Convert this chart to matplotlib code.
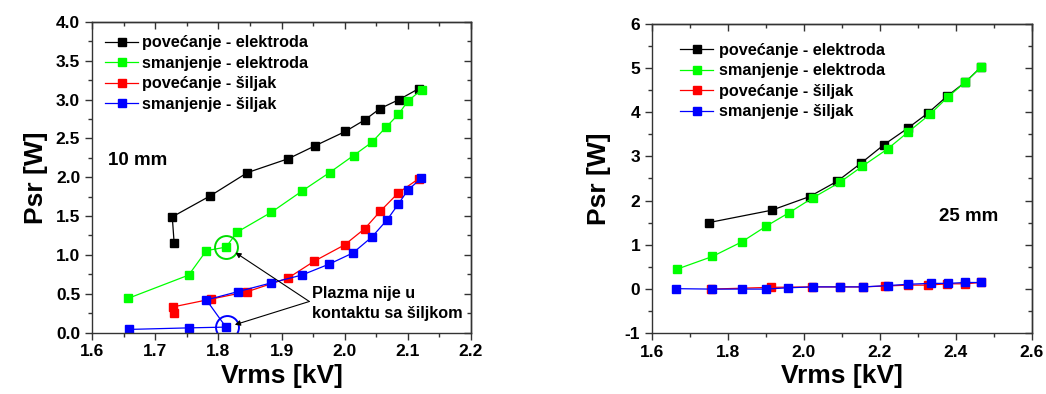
import matplotlib
matplotlib.use('Agg')
import matplotlib.pyplot as plt
from matplotlib.ticker import MultipleLocator, NullFormatter

plt.rcParams['font.family'] = ['Liberation Sans', 'DejaVu Sans']
plt.rcParams['font.weight'] = 'bold'

# labels
lab_pov_el = 'povećanje - elektroda'
lab_sm_el = 'smanjenje - elektroda'
lab_pov_si = 'povećanje - šiljak'
lab_sm_si = 'smanjenje - šiljak'

# 10 mm
v_pov_el_10 = [1.730, 1.727, 1.787, 1.846, 1.911, 1.953, 2.001, 2.032, 2.056, 2.086, 2.117]
p_pov_el_10 = [1.15, 1.49, 1.76, 2.06, 2.24, 2.405, 2.59, 2.74, 2.885, 3.00, 3.14]
v_sm_el_10 = [1.657, 1.753, 1.781, 1.812, 1.830, 1.884, 1.932, 1.976, 2.014, 2.043, 2.066, 2.085, 2.100, 2.122]
p_sm_el_10 = [0.44, 0.74, 1.055, 1.10, 1.295, 1.55, 1.82, 2.06, 2.28, 2.45, 2.65, 2.81, 2.98, 3.13]
v_pov_si_10 = [1.729, 1.728, 1.788, 1.846, 1.910, 1.952, 2.000, 2.032, 2.056, 2.085, 2.117]
p_pov_si_10 = [0.25, 0.33, 0.43, 0.527, 0.70, 0.92, 1.13, 1.34, 1.56, 1.80, 1.98]
v_sm_si_10 = [1.658, 1.753, 1.812, 1.781, 1.831, 1.884, 1.932, 1.975, 2.013, 2.043, 2.067, 2.085, 2.100, 2.121]
p_sm_si_10 = [0.04, 0.06, 0.07, 0.42, 0.527, 0.64, 0.74, 0.88, 1.025, 1.23, 1.45, 1.655, 1.835, 1.985]

# 25 mm
v_pov_el_25 = [1.750, 1.915, 2.015, 2.088, 2.149, 2.211, 2.273, 2.327, 2.377, 2.425, 2.465]
p_pov_el_25 = [1.50, 1.78, 2.09, 2.44, 2.84, 3.27, 3.64, 3.99, 4.37, 4.69, 5.02]
v_sm_el_25 = [1.665, 1.759, 1.836, 1.901, 1.960, 2.023, 2.094, 2.154, 2.220, 2.275, 2.332, 2.379, 2.425, 2.465]
p_sm_el_25 = [0.44, 0.73, 1.06, 1.42, 1.72, 2.06, 2.41, 2.78, 3.17, 3.56, 3.96, 4.35, 4.69, 5.02]
v_pov_si_25 = [1.756, 1.913, 2.022, 2.095, 2.156, 2.213, 2.274, 2.327, 2.377, 2.425, 2.465]
p_pov_si_25 = [-0.01, 0.03, 0.04, 0.04, 0.04, 0.06, 0.08, 0.08, 0.11, 0.11, 0.14]
v_sm_si_25 = [1.663, 1.757, 1.836, 1.899, 1.959, 2.023, 2.095, 2.156, 2.220, 2.275, 2.333, 2.380, 2.425, 2.465]
p_sm_si_25 = [0.00, -0.01, -0.01, -0.01, 0.02, 0.04, 0.04, 0.04, 0.07, 0.10, 0.12, 0.12, 0.14, 0.14]

# circled points (no contact)
circ_green = (1.812, 1.10)
circ_blue = (1.814, 0.07)

fig = plt.figure(figsize=(10.46, 3.94), dpi=100)
ax1 = fig.add_axes([0.0880, 0.1560, 0.3623, 0.7882])
ax2 = fig.add_axes([0.6233, 0.1555, 0.3633, 0.7830])

ms = 6.3
lw = 0.9
tfs = 12.5
colors = ['black', '#00ff00', '#ff0000', '#0000ff']
leg_prop = {'weight': 'bold', 'size': 11.7}

def style_axis(ax, xmaj, xmin, ymaj, ymin):
    for s in ax.spines.values():
        s.set_linewidth(1.0)
        s.set_color('#333333')
    ax.tick_params(which='both', direction='out', width=1.0, color='#333333')
    ax.tick_params(which='major', length=5)
    ax.tick_params(which='minor', length=3)
    # mirrored ticks on top / right, pointing inwards
    top = ax.secondary_xaxis('top')
    top.set_xticks(xmaj)
    top.xaxis.set_minor_locator(MultipleLocator(xmin))
    top.xaxis.set_major_formatter(NullFormatter())
    right = ax.secondary_yaxis('right')
    right.set_yticks(ymaj)
    right.yaxis.set_minor_locator(MultipleLocator(ymin))
    right.yaxis.set_major_formatter(NullFormatter())
    for sec in (top, right):
        sec.tick_params(which='both', direction='in', width=1.0, color='#333333')
        sec.tick_params(which='major', length=5)
        sec.tick_params(which='minor', length=3)
        for s in sec.spines.values():
            s.set_linewidth(1.0)
            s.set_color('#333333')

# ---- left panel (10 mm)
series10 = [(v_pov_el_10, p_pov_el_10, lab_pov_el), (v_sm_el_10, p_sm_el_10, lab_sm_el),
            (v_pov_si_10, p_pov_si_10, lab_pov_si), (v_sm_si_10, p_sm_si_10, lab_sm_si)]
for (x, y, lab), c in zip(series10, colors):
    ax1.plot(x, y, '-s', color=c, lw=lw, ms=ms, mec=c, label=lab)

ax1.plot(*circ_green, 'o', ms=16.5, mfc='none', mec='#00dd00', mew=1.4)
ax1.plot(*circ_blue, 'o', ms=16.5, mfc='none', mec='#0000ff', mew=1.4)

ax1.set_xlim(1.6, 2.2)
ax1.set_ylim(0.0, 4.0)
ax1.xaxis.set_minor_locator(MultipleLocator(0.05))
ax1.yaxis.set_minor_locator(MultipleLocator(0.25))
xt = [1.6, 1.7, 1.8, 1.9, 2.0, 2.1, 2.2]
yt = [0.0, 0.5, 1.0, 1.5, 2.0, 2.5, 3.0, 3.5, 4.0]
ax1.set_xticks(xt)
ax1.set_xticklabels(['%.1f' % v for v in xt], fontsize=tfs, fontweight='bold')
ax1.set_yticks(yt)
ax1.set_yticklabels(['%.1f' % v for v in yt], fontsize=tfs, fontweight='bold')
style_axis(ax1, xt, 0.05, yt, 0.25)
ax1.set_xlabel('Vrms [kV]', fontsize=19, fontweight='bold', labelpad=3)
ax1.set_ylabel('Psr [W]', fontsize=19, fontweight='bold', labelpad=6)

ax1.text(1.625, 2.22, '10 mm', fontsize=13.5, fontweight='bold', va='center', ha='left')

ax1.text(1.948, 0.37, 'Plazma nije u\nkontaktu sa šiljkom', fontsize=11.7, fontweight='bold',
         va='center', ha='left', linespacing=1.4)
for tgt in [(1.827, 1.03), (1.826, 0.10)]:
    ax1.annotate('', xy=tgt, xytext=(1.944, 0.40),
                 arrowprops=dict(arrowstyle='-|>', color='black', lw=0.8, mutation_scale=8,
                                 shrinkA=0, shrinkB=0))

ax1.legend(loc='upper left', bbox_to_anchor=(0.035, 0.957), frameon=False,
           handlelength=2.0, handletextpad=0.25, labelspacing=0.34, borderpad=0,
           borderaxespad=0, numpoints=1, prop=leg_prop)

# ---- right panel (25 mm)
series25 = [(v_pov_el_25, p_pov_el_25, lab_pov_el), (v_sm_el_25, p_sm_el_25, lab_sm_el),
            (v_pov_si_25, p_pov_si_25, lab_pov_si), (v_sm_si_25, p_sm_si_25, lab_sm_si)]
for (x, y, lab), c in zip(series25, colors):
    ax2.plot(x, y, '-s', color=c, lw=lw, ms=ms, mec=c, label=lab)

ax2.set_xlim(1.6, 2.6)
ax2.set_ylim(-1, 6)
ax2.xaxis.set_minor_locator(MultipleLocator(0.1))
ax2.yaxis.set_minor_locator(MultipleLocator(0.5))
xt2 = [1.6, 1.8, 2.0, 2.2, 2.4, 2.6]
yt2 = [-1, 0, 1, 2, 3, 4, 5, 6]
ax2.set_xticks(xt2)
ax2.set_xticklabels(['%.1f' % v for v in xt2], fontsize=tfs, fontweight='bold')
ax2.set_yticks(yt2)
ax2.set_yticklabels(['%d' % v for v in yt2], fontsize=tfs, fontweight='bold')
style_axis(ax2, xt2, 0.1, yt2, 0.5)
ax2.set_xlabel('Vrms [kV]', fontsize=19, fontweight='bold', labelpad=3)
ax2.set_ylabel('Psr [W]', fontsize=19, fontweight='bold', labelpad=10)

ax2.text(2.355, 1.63, '25 mm', fontsize=13.5, fontweight='bold', va='center', ha='left')

ax2.legend(loc='upper left', bbox_to_anchor=(0.075, 0.94), frameon=False,
           handlelength=2.0, handletextpad=0.35, labelspacing=0.34, borderpad=0,
           borderaxespad=0, numpoints=1, prop=leg_prop)

fig.savefig('out.png', dpi=100)
